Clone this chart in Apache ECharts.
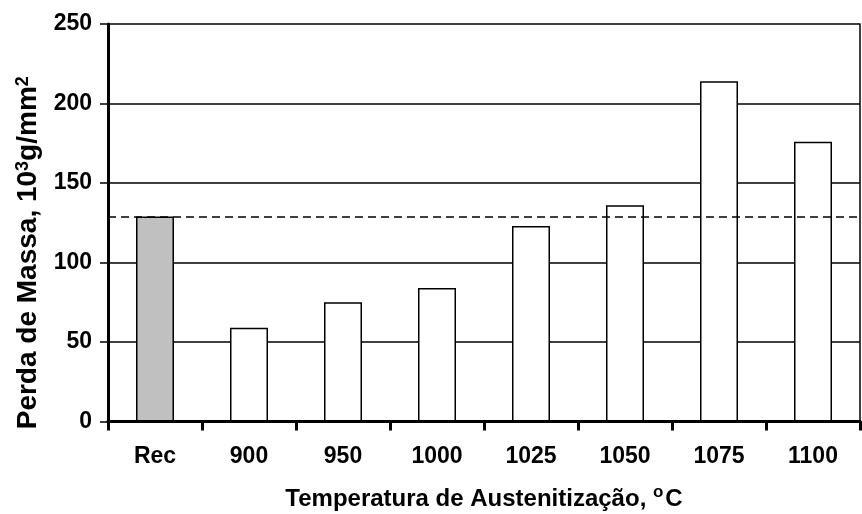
<!DOCTYPE html>
<html>
<head>
<meta charset="utf-8">
<script src="https://cdn.jsdelivr.net/npm/echarts@6/dist/echarts.min.js"></script>
<style>html,body{margin:0;padding:0;background:#fff;}#c{width:862px;height:514px;}</style>
</head>
<body>
<div id="c"></div>
<script>
const categories = ['Rec', '900', '950', '1000', '1025', '1050', '1075', '1100'];
const massLoss = [129, 59, 75, 84, 123, 136, 214, 176];
const referenceLevel = 129;
const yTicks = [0, 50, 100, 150, 200, 250];

const FONT = '"Liberation Sans", Arial, sans-serif';
const chart = echarts.init(document.getElementById('c'), null, {renderer: 'canvas'});

const barData = massLoss.map((v, i) => ({
  value: v,
  itemStyle: {color: i === 0 ? '#c0c0c0' : '#ffffff'}
}));

chart.setOption({
  animation: false,
  backgroundColor: '#ffffff',
  grid: {left: 108, right: 2, top: 24, bottom: 92.5, containLabel: false, outerBoundsMode: 'none'},
  xAxis: [{
    type: 'category',
    data: categories,
    position: 'bottom',
    axisLine: {lineStyle: {color: '#000', width: 3}},
    axisTick: {show: true, length: 9, lineStyle: {color: '#000', width: 3}},
    axisLabel: {color: '#000', fontFamily: FONT, fontWeight: 'bold', fontSize: 23, margin: 24},
    name: '{a|Temperatura de Austenitização, }{s|o}{a|C}',
    nameLocation: 'middle',
    nameGap: 62,
    nameTextStyle: {
      rich: {
        a: {fontFamily: FONT, fontWeight: 'bold', fontSize: 24, color: '#000'},
        s: {fontFamily: FONT, fontWeight: 'bold', fontSize: 17, color: '#000', padding: [0, 2, 14, 0]}
      }
    }
  }, {
    type: 'category',
    data: categories,
    position: 'top',
    axisLine: {lineStyle: {color: '#000', width: 3}},
    axisTick: {show: false},
    axisLabel: {show: false}
  }],
  yAxis: [{
    type: 'value',
    min: 0,
    max: 250,
    interval: 50,
    axisLine: {show: true, lineStyle: {color: '#000', width: 3}},
    axisTick: {show: true, length: 8, lineStyle: {color: '#000', width: 1.5}},
    splitLine: {show: true, lineStyle: {color: '#000', width: 1.5}},
    axisLabel: {
      color: '#000', fontFamily: FONT, fontWeight: 'bold', fontSize: 23, margin: 16,
      formatter: v => yTicks.includes(v) ? String(v) : ''
    },
    name: '{a|Perda de Massa, 10}{s|3}{a|g/mm}{s|2}',
    nameLocation: 'middle',
    nameGap: 60,
    nameRotate: 90,
    nameTextStyle: {
      padding: [0, 60, 0, 0],
      rich: {
        a: {fontFamily: FONT, fontWeight: 'bold', fontSize: 28, color: '#000'},
        s: {fontFamily: FONT, fontWeight: 'bold', fontSize: 18, color: '#000', padding: [0, 0, 12, 0]}
      }
    }
  }, {
    type: 'value',
    min: 0,
    max: 250,
    interval: 50,
    position: 'right',
    axisLine: {show: true, lineStyle: {color: '#000', width: 1.5}},
    axisTick: {show: false},
    axisLabel: {show: false},
    splitLine: {show: false}
  }],
  series: [{
    type: 'bar',
    data: barData,
    barWidth: 38,
    itemStyle: {borderColor: '#000', borderWidth: 1.5},
    markLine: {
      silent: true,
      symbol: 'none',
      label: {show: false},
      lineStyle: {color: '#000', type: [8, 5], width: 1.5},
      data: [{yAxis: referenceLevel}]
    }
  }]
});
</script>
</body>
</html>
